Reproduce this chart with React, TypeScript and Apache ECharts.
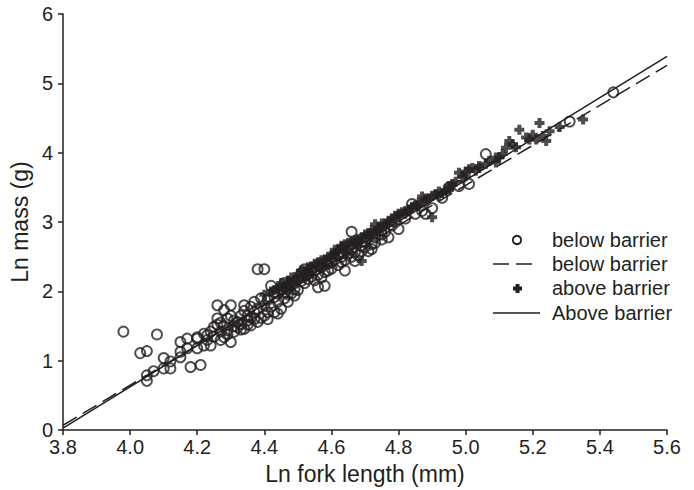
import React, { useEffect, useRef } from "react";
import * as echarts from "echarts";

// Ln fork length (mm) vs Ln mass (g)
const belowBarrierPoints: [number, number][] = [
  [3.98, 1.42], [4.03, 1.11], [4.05, 1.14], [4.08, 1.38], [4.05, 0.79], [4.05, 0.71],
  [4.07, 0.85], [4.10, 1.04], [4.10, 0.89], [4.12, 0.89], [4.12, 0.99], [4.15, 1.27],
  [4.15, 1.13], [4.15, 1.05], [4.17, 1.32], [4.17, 1.18], [4.18, 0.91], [4.20, 1.32],
  [4.20, 1.18], [4.21, 0.94], [4.22, 1.22], [4.23, 1.37], [4.20, 1.34], [4.22, 1.39],
  [4.24, 1.22], [4.25, 1.49], [4.26, 1.80], [4.26, 1.61], [4.27, 1.42], [4.28, 1.73],
  [4.28, 1.34], [4.29, 1.61], [4.30, 1.80], [4.30, 1.27], [4.30, 1.65], [4.31, 1.42],
  [4.32, 1.56], [4.33, 1.65], [4.34, 1.80], [4.34, 1.46], [4.35, 1.65], [4.36, 1.51],
  [4.37, 1.85], [4.38, 2.32], [4.38, 1.56], [4.40, 2.32], [4.40, 1.65], [4.41, 1.70],
  [4.42, 2.08], [4.43, 1.99], [4.43, 1.70], [4.45, 1.75], [4.46, 1.99], [4.47, 1.85],
  [4.48, 2.08], [4.49, 1.94], [4.50, 2.18], [4.32, 1.48], [4.33, 1.53], [4.35, 1.58],
  [4.36, 1.62], [4.37, 1.70], [4.38, 1.75], [4.39, 1.62], [4.40, 1.80], [4.41, 1.88],
  [4.42, 1.78], [4.43, 1.92], [4.44, 1.85], [4.44, 1.97], [4.45, 2.02], [4.46, 1.90],
  [4.47, 2.05], [4.48, 1.97], [4.49, 2.12], [4.50, 2.02], [4.26, 1.52], [4.28, 1.50],
  [4.29, 1.44], [4.31, 1.58], [4.34, 1.72], [4.36, 1.78], [4.39, 1.90], [4.41, 1.60],
  [4.44, 1.68], [4.52, 2.32], [4.54, 2.21], [4.56, 2.06], [4.58, 2.08], [4.64, 2.30],
  [4.67, 2.44], [4.72, 2.61], [4.75, 2.75], [4.78, 2.95], [4.80, 2.90], [4.66, 2.86],
  [4.52, 2.12], [4.53, 2.25], [4.55, 2.30], [4.57, 2.35], [4.59, 2.40], [4.60, 2.33],
  [4.61, 2.46], [4.62, 2.52], [4.63, 2.42], [4.65, 2.55], [4.66, 2.60], [4.68, 2.52],
  [4.69, 2.66], [4.70, 2.72], [4.71, 2.58], [4.73, 2.70], [4.74, 2.82], [4.76, 2.86],
  [4.77, 2.78], [4.79, 3.00], [4.51, 2.26], [4.55, 2.16], [4.58, 2.28], [4.84, 3.26],
  [4.87, 3.16], [4.88, 3.12], [4.82, 3.05], [4.85, 3.12], [4.90, 3.20], [4.95, 3.50],
  [5.01, 3.55], [5.06, 3.98], [5.31, 4.45], [5.44, 4.87], [4.93, 3.35], [4.98, 3.52],
  [4.46, 2.12], [4.47, 1.96], [4.49, 2.03], [4.51, 2.15], [4.53, 2.18], [4.54, 2.30],
  [4.56, 2.24], [4.57, 2.20], [4.59, 2.30], [4.60, 2.42], [4.62, 2.38], [4.63, 2.50],
  [4.64, 2.45], [4.66, 2.50], [4.67, 2.56], [4.69, 2.58], [4.70, 2.64], [4.72, 2.68],
  [4.73, 2.78], [4.75, 2.82], [4.23, 1.30], [4.25, 1.35], [4.27, 1.30], [4.29, 1.38],
  [4.31, 1.50], [4.33, 1.45], [4.35, 1.52], [4.37, 1.60], [4.27, 1.55], [4.24, 1.42],
];

const aboveBarrierPoints: [number, number][] = [
  [4.40, 1.95], [4.42, 2.00], [4.44, 2.05], [4.45, 2.12], [4.46, 2.08], [4.47, 2.15],
  [4.48, 2.20], [4.49, 2.16], [4.50, 2.25], [4.51, 2.30], [4.52, 2.22], [4.53, 2.35],
  [4.54, 2.32], [4.55, 2.40], [4.56, 2.36], [4.57, 2.45], [4.58, 2.42], [4.59, 2.50],
  [4.60, 2.48], [4.61, 2.55], [4.61, 2.60], [4.62, 2.56], [4.63, 2.64], [4.64, 2.62],
  [4.65, 2.70], [4.66, 2.66], [4.67, 2.74], [4.68, 2.72], [4.69, 2.78], [4.70, 2.82],
  [4.71, 2.80], [4.72, 2.88], [4.73, 2.86], [4.73, 2.97], [4.74, 2.92], [4.75, 2.98],
  [4.76, 2.94], [4.77, 3.02], [4.78, 3.05], [4.79, 3.09], [4.80, 3.08], [4.81, 3.14],
  [4.82, 3.12], [4.83, 3.18], [4.84, 3.22], [4.85, 3.24], [4.86, 3.28], [4.87, 3.37],
  [4.88, 3.30], [4.89, 3.34], [4.90, 3.07], [4.90, 3.38], [4.91, 3.40], [4.92, 3.44],
  [4.93, 3.42], [4.95, 3.47], [4.95, 3.52], [4.96, 3.55], [4.97, 3.58], [4.98, 3.71],
  [4.99, 3.65], [5.00, 3.66], [5.00, 3.73], [5.01, 3.76], [5.02, 3.78], [5.04, 3.78],
  [5.04, 3.81], [5.06, 3.84], [5.09, 3.86], [5.09, 3.93], [5.10, 3.93], [5.12, 4.07],
  [5.13, 4.17], [5.15, 4.08], [5.16, 4.33], [5.19, 4.19], [5.20, 4.26], [5.21, 4.19],
  [5.22, 4.43], [5.24, 4.17], [5.25, 4.31], [5.35, 4.48], [4.69, 2.44], [4.61, 2.54],
  [4.63, 2.66], [4.53, 2.28], [4.57, 2.38], [4.64, 2.58], [4.67, 2.68], [4.71, 2.84],
  [4.43, 2.02], [4.45, 2.06], [4.47, 2.10], [4.48, 2.14], [4.50, 2.18], [4.52, 2.28],
  [4.54, 2.36], [4.56, 2.42], [4.58, 2.46], [4.60, 2.52], [4.62, 2.60], [4.64, 2.68],
  [4.66, 2.72], [4.68, 2.76], [4.70, 2.78], [4.72, 2.84], [4.74, 2.88], [4.76, 2.98],
  [4.78, 3.00], [4.80, 3.12], [4.82, 3.16], [4.84, 3.20], [4.86, 3.24], [4.88, 3.34],
  [4.92, 3.38], [4.94, 3.45], [5.03, 3.74], [5.07, 3.88], [5.11, 3.98], [5.14, 4.12],
  [5.18, 4.22], [5.23, 4.24], [5.28, 4.37],
];

const belowBarrierFit: [number, number][] = [[3.8, 0.07], [5.6, 5.26]];
const aboveBarrierFit: [number, number][] = [[3.8, 0.03], [5.6, 5.39]];

const xTicks = { min: 3.8, max: 5.6, interval: 0.2 };
const yTicks = { min: 0, max: 6, interval: 1 };

const legendLabels = ["below barrier", "below barrier", "above barrier", "Above barrier"];

const INK = "#231f20";
const FONT = "'Liberation Sans', Arial, Helvetica, sans-serif";
const PLUS = "path://M3,0H7V3H10V7H7V10H3V7H0V3H3Z";

export default function App() {
  const ref = useRef<HTMLDivElement>(null);
  useEffect(() => {
    if (!ref.current) return;
    const chart = echarts.init(ref.current, null, { renderer: "svg" });
    const rowsY = [240, 264, 288, 313];
    const legendGraphics: any[] = [
      {
        type: "circle",
        shape: { cx: 517, cy: rowsY[0], r: 4.2 },
        style: { fill: "none", stroke: INK, lineWidth: 1.8 },
      },
      {
        type: "line",
        shape: { x1: 493, y1: rowsY[1], x2: 534, y2: rowsY[1] },
        style: { stroke: INK, lineWidth: 1.4, lineDash: [16, 7] },
      },
      {
        type: "polygon",
        shape: {
          points: [
            [515.5, rowsY[2] - 4], [519.5, rowsY[2] - 4], [519.5, rowsY[2] - 1.5],
            [522, rowsY[2] - 1.5], [522, rowsY[2] + 2.5], [519.5, rowsY[2] + 2.5],
            [519.5, rowsY[2] + 5], [515.5, rowsY[2] + 5], [515.5, rowsY[2] + 2.5],
            [513, rowsY[2] + 2.5], [513, rowsY[2] - 1.5], [515.5, rowsY[2] - 1.5],
          ],
        },
        style: { fill: INK },
      },
      {
        type: "line",
        shape: { x1: 493, y1: rowsY[3], x2: 540, y2: rowsY[3] },
        style: { stroke: INK, lineWidth: 1.4 },
      },
      ...legendLabels.map((t, i) => ({
        type: "text",
        x: 552,
        y: rowsY[i],
        style: {
          text: t,
          fill: INK,
          fontSize: 20,
          fontFamily: FONT,
          align: "left",
          verticalAlign: "middle",
        },
      })),
    ];

    chart.setOption({
      animation: false,
      backgroundColor: "#ffffff",
      grid: { left: 62, right: 27, top: 14, bottom: 58 },
      xAxis: {
        type: "value",
        min: xTicks.min,
        max: xTicks.max,
        interval: xTicks.interval,
        name: "Ln fork length (mm)",
        nameLocation: "middle",
        nameGap: 31,
        nameTextStyle: { fontSize: 23, color: INK, fontFamily: FONT },
        axisLine: { onZero: false, lineStyle: { color: INK, width: 1.5 } },
        axisTick: { show: true, inside: false, length: 5, lineStyle: { color: INK, width: 1.5 } },
        axisLabel: {
          fontSize: 20,
          color: INK,
          fontFamily: FONT,
          margin: 7,
          formatter: (v: number) => v.toFixed(1),
        },
        splitLine: { show: false },
      },
      yAxis: {
        type: "value",
        min: yTicks.min,
        max: yTicks.max,
        interval: yTicks.interval,
        name: "Ln mass (g)",
        nameLocation: "middle",
        nameGap: 28,
        nameRotate: 90,
        nameTextStyle: { fontSize: 23, color: INK, fontFamily: FONT },
        axisLine: { show: true, onZero: false, lineStyle: { color: INK, width: 1.5 } },
        axisTick: { show: true, inside: false, length: 5, lineStyle: { color: INK, width: 1.5 } },
        axisLabel: { fontSize: 20, color: INK, fontFamily: FONT, margin: 10 },
        splitLine: { show: false },
      },
      series: [
        {
          name: "below barrier",
          type: "scatter",
          data: belowBarrierPoints,
          symbol: "circle",
          symbolSize: 10,
          itemStyle: { color: "rgba(0,0,0,0)", borderColor: INK, borderWidth: 1.9 },
          z: 2,
        },
        {
          name: "below barrier fit",
          type: "line",
          data: belowBarrierFit,
          symbol: "none",
          lineStyle: { color: INK, width: 1.5, type: [16, 7] },
          z: 3,
        },
        {
          name: "above barrier",
          type: "scatter",
          data: aboveBarrierPoints,
          symbol: PLUS,
          symbolSize: 10,
          itemStyle: { color: INK },
          z: 4,
        },
        {
          name: "Above barrier",
          type: "line",
          data: aboveBarrierFit,
          symbol: "none",
          lineStyle: { color: INK, width: 1.5 },
          z: 5,
        },
      ],
      graphic: legendGraphics,
    });
    return () => chart.dispose();
  }, []);
  return (
    <div
      ref={ref}
      style={{ position: "fixed", left: 0, top: 0, width: 694, height: 490, background: "#fff" }}
    />
  );
}
